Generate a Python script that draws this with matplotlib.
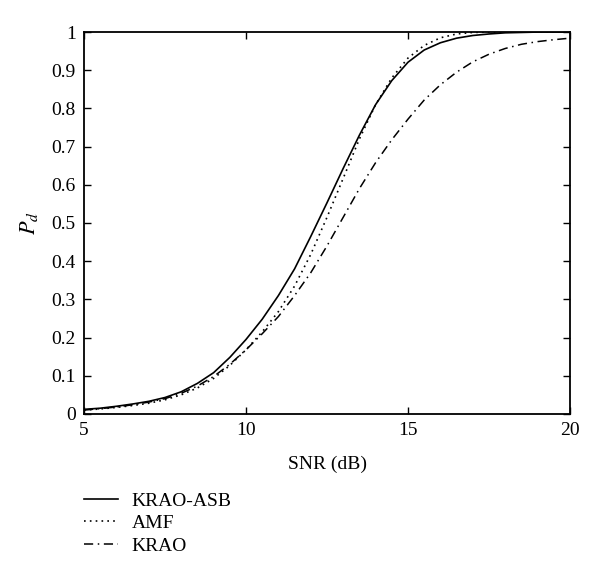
import numpy as np
import matplotlib
matplotlib.use('Agg')
import matplotlib.pyplot as plt

# SNR grid (dB) and detection probability curves
snr = [5, 5.5, 6, 6.5, 7, 7.5, 8, 8.5, 9, 9.5, 10, 10.5, 11, 11.5, 12, 12.5,
       13, 13.5, 14, 14.5, 15, 15.5, 16, 16.5, 17, 17.5, 18, 18.5, 19, 19.5, 20]

krao_asb = [0.012, 0.015, 0.020, 0.026, 0.033, 0.043, 0.058, 0.080, 0.108, 0.148,
            0.195, 0.248, 0.310, 0.380, 0.465, 0.553, 0.643, 0.730, 0.810, 0.873,
            0.921, 0.953, 0.972, 0.984, 0.991, 0.995, 0.998, 0.999, 1.0, 1.0, 1.0]

amf = [0.010, 0.013, 0.017, 0.022, 0.028, 0.037, 0.050, 0.068, 0.093, 0.127,
       0.168, 0.215, 0.268, 0.335, 0.418, 0.515, 0.617, 0.720, 0.810, 0.880,
       0.932, 0.965, 0.985, 0.995, 0.999, 1.0, 1.0, 1.0, 1.0, 1.0, 1.0]

krao = [0.010, 0.014, 0.018, 0.024, 0.031, 0.040, 0.054, 0.073, 0.098, 0.130,
        0.168, 0.210, 0.255, 0.310, 0.370, 0.440, 0.515, 0.590, 0.658, 0.718,
        0.772, 0.822, 0.862, 0.895, 0.922, 0.942, 0.957, 0.968, 0.975, 0.980, 0.984]

labels = ['KRAO-ASB', 'AMF', 'KRAO']

plt.rcParams['font.family'] = ['Liberation Serif', 'DejaVu Serif']
plt.rcParams['mathtext.fontset'] = 'stix'

fig = plt.figure(figsize=(6.0, 5.83), dpi=100)
ax = fig.add_axes([0.14, 0.29, 0.81, 0.655])

ax.plot(snr, krao_asb, color='black', linestyle='-', linewidth=1.2, label=labels[0])
ax.plot(snr, amf, color='black', linestyle=(0, (1, 2.5)), linewidth=1.2, label=labels[1])
ax.plot(snr, krao, color='black', linestyle=(0, (6, 3, 1, 3)), linewidth=1.1, label=labels[2])

ax.set_xlim(5, 20)
ax.set_ylim(0, 1)
ax.set_xticks([5, 10, 15, 20])
ax.set_yticks(np.arange(0, 1.01, 0.1))
ax.set_yticklabels(['0', '0.1', '0.2', '0.3', '0.4', '0.5', '0.6', '0.7', '0.8', '0.9', '1'])
ax.tick_params(direction='in', length=5, width=1, top=True, right=True, labelsize=14, pad=6)
for s in ax.spines.values():
    s.set_linewidth(1.3)

ax.set_xlabel('SNR (dB)', fontsize=14, labelpad=12)
ax.set_ylabel('$P_d$', fontsize=16, labelpad=8)

fig.legend(loc='upper left', bbox_to_anchor=(84 / 600, 1 - 492 / 583), frameon=False,
           fontsize=14, handlelength=1.75, handletextpad=0.7, labelspacing=0.25,
           borderpad=0, borderaxespad=0)

fig.savefig('out.png', dpi=100)
